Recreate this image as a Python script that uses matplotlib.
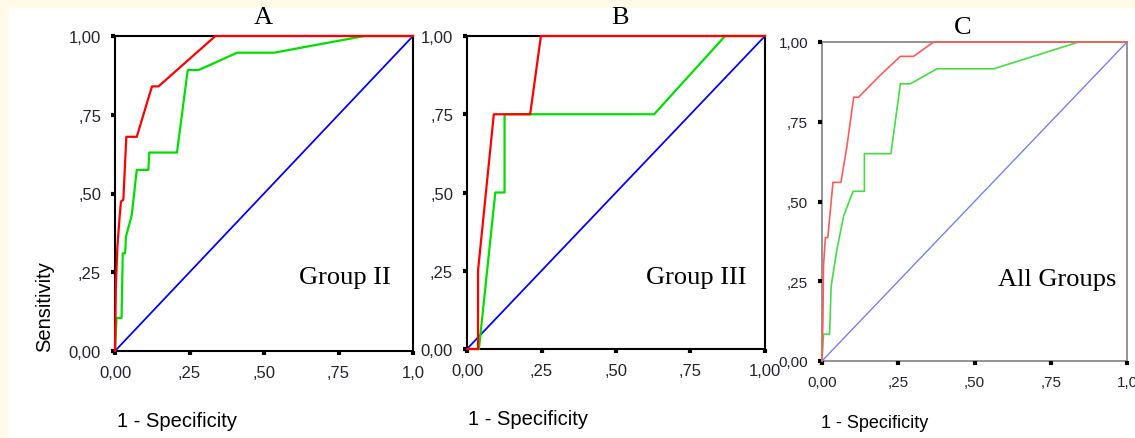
import matplotlib
matplotlib.use("Agg")
import matplotlib.pyplot as plt
from matplotlib.patches import Rectangle

# ROC curves (1 - specificity, sensitivity)
a_red_x = [0, 0.003, 0.008, 0.015, 0.02, 0.028, 0.038, 0.073, 0.124, 0.146, 0.337, 1.0]
a_red_y = [0, 0.21, 0.33, 0.42, 0.475, 0.48, 0.68, 0.68, 0.84, 0.84, 1.0, 1.0]
a_green_x = [0, 0.005, 0.022, 0.026, 0.034, 0.037, 0.056, 0.073, 0.112, 0.115, 0.208, 0.244, 0.281, 0.41, 0.534, 0.837, 1.0]
a_green_y = [0, 0.105, 0.105, 0.31, 0.31, 0.364, 0.43, 0.575, 0.575, 0.63, 0.63, 0.892, 0.892, 0.947, 0.947, 1.0, 1.0]

b_red_x = [0, 0.037, 0.037, 0.09, 0.212, 0.248, 1.0]
b_red_y = [0, 0, 0.25, 0.75, 0.75, 1.0, 1.0]
b_green_x = [0, 0.04, 0.095, 0.126, 0.126, 0.628, 0.866, 1.0]
b_green_y = [0, 0, 0.5, 0.5, 0.75, 0.75, 1.0, 1.0]

c_red_x = [0, 0.003, 0.005, 0.011, 0.019, 0.036, 0.062, 0.082, 0.104, 0.12, 0.19, 0.257, 0.3, 0.366, 1.0]
c_red_y = [0, 0.13, 0.3, 0.387, 0.387, 0.56, 0.56, 0.675, 0.827, 0.827, 0.895, 0.955, 0.955, 1.0, 1.0]
c_green_x = [0, 0.005, 0.025, 0.03, 0.049, 0.071, 0.102, 0.139, 0.139, 0.226, 0.257, 0.29, 0.377, 0.563, 0.842, 1.0]
c_green_y = [0, 0.084, 0.084, 0.235, 0.35, 0.455, 0.532, 0.532, 0.65, 0.65, 0.869, 0.869, 0.916, 0.916, 1.0, 1.0]

ref_x = [0, 1]
ref_y = [0, 1]

ticks = [0, 0.25, 0.5, 0.75, 1.0]
y_tick_labels = ["0,00", ",25", ",50", ",75", "1,00"]
x_tick_labels = ["0,00", ",25", ",50", ",75", "1,0"]
x_tick_labels_b = ["0,00", ",25", ",50", ",75", "1,00"]

panel_titles = ["A", "B", "C"]
group_names = ["Group II", "Group III", "All Groups"]

sans_font = ["Liberation Sans", "DejaVu Sans"]
serif_font = ["Liberation Serif", "DejaVu Serif"]

fig = plt.figure(figsize=(11.35, 4.39), dpi=100)
fig.patch.set_facecolor("#fffbe8")
fig.patches.append(Rectangle((9 / 1135, 0), 1, 1 - 9 / 439, transform=fig.transFigure,
                             facecolor="white", edgecolor="none", zorder=-5))

# axes boxes in figure fractions
boxes = [
    [115 / 1135, (439 - 352) / 439, 298 / 1135, 315 / 439],
    [467 / 1135, (439 - 350) / 439, 298 / 1135, 313 / 439],
    [822 / 1135, (439 - 362) / 439, 305 / 1135, 319 / 439],
]
curves = [
    (a_red_x, a_red_y, a_green_x, a_green_y),
    (b_red_x, b_red_y, b_green_x, b_green_y),
    (c_red_x, c_red_y, c_green_x, c_green_y),
]
styles = [
    dict(red="#ff0000", green="#00e000", blue="#0000ff", lw=1.6, spine="black", slw=1.5, fs=12),
    dict(red="#ff0000", green="#00e000", blue="#0000ff", lw=1.6, spine="black", slw=1.5, fs=12),
    dict(red="#ff5a5a", green="#44dd44", blue="#7777ff", lw=1.2, spine="#808080", slw=1.2, fs=11),
]
title_pos = [(263, 18), (620, 18), (963, 28)]
xlabel_pos = [(177, 422), (528, 420), (875, 424)]
xlabel_size = [14.5, 14.5, 13]
group_pos = [(0.77, 0.235), (0.77, 0.23), (0.77, 0.257)]

for i in range(3):
    ax = fig.add_axes(boxes[i])
    ax.set_facecolor("white")
    st = styles[i]
    rx, ry, gx, gy = curves[i]
    ax.plot(ref_x, ref_y, color=st["blue"], lw=st["lw"] * 0.8, zorder=2, clip_on=False)
    ax.plot(gx, gy, color=st["green"], lw=st["lw"], zorder=3, clip_on=False)
    ax.plot(rx, ry, color=st["red"], lw=st["lw"], zorder=4, clip_on=False)
    ax.set_xlim(0, 1)
    ax.set_ylim(0, 1)
    for sp in ax.spines.values():
        sp.set_color(st["spine"])
        sp.set_linewidth(st["slw"])
        sp.set_zorder(1)
    ax.set_xticks(ticks)
    ax.set_yticks(ticks)
    ax.set_xticklabels(x_tick_labels_b if i == 1 else x_tick_labels)
    ax.set_yticklabels(y_tick_labels)
    ax.tick_params(direction="out", length=3, width=3, color="black", pad=7,
                   labelsize=st["fs"], labelcolor="#23232e")
    for lab in ax.get_xticklabels() + ax.get_yticklabels():
        lab.set_family(sans_font)
    ax.text(group_pos[i][0], group_pos[i][1], group_names[i], transform=ax.transAxes,
            ha="center", va="center", fontsize=19, family=serif_font)
    tx, ty = title_pos[i]
    fig.text(tx / 1135, 1 - ty / 439, panel_titles[i], ha="center", va="center",
             fontsize=19, family=serif_font)
    lx, ly = xlabel_pos[i]
    fig.text(lx / 1135, 1 - ly / 439, "1 - Specificity", ha="center", va="center",
             fontsize=xlabel_size[i], family=sans_font)

fig.text(45 / 1135, 1 - 307 / 439, "Sensitivity", rotation=90, ha="center", va="center",
         fontsize=14.5, family=sans_font)

fig.savefig("out.png", dpi=100)
